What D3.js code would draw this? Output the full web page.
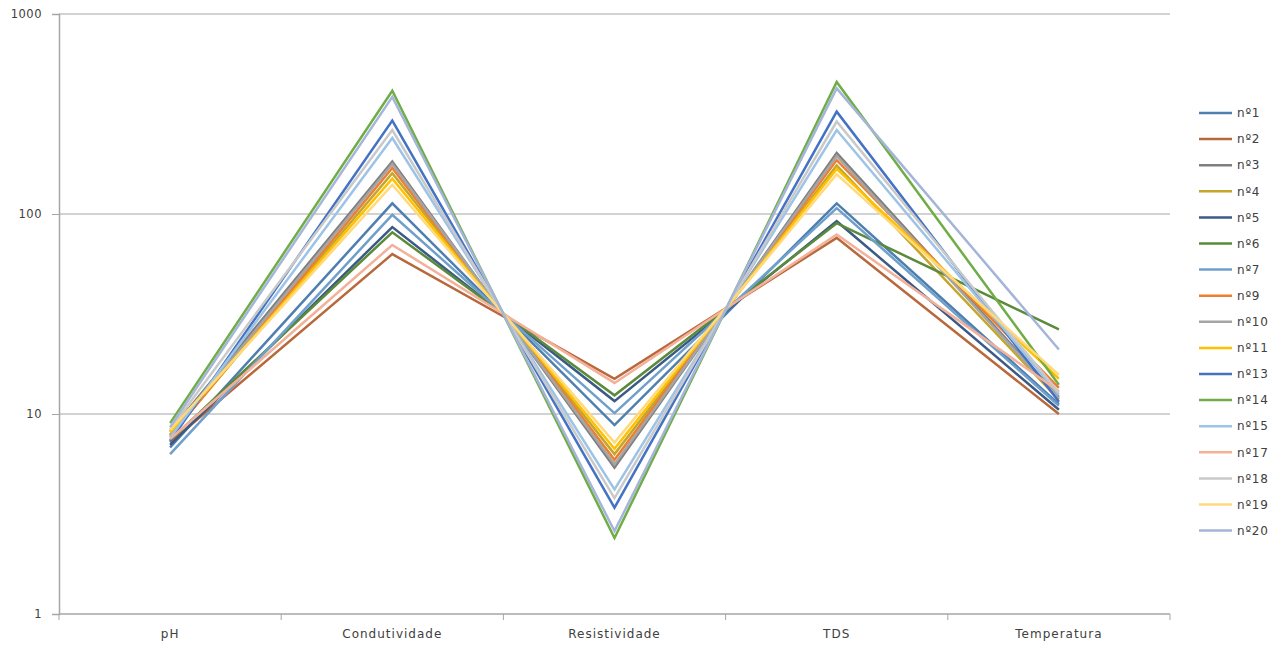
<!DOCTYPE html>
<html><head><meta charset="utf-8">
<script src="https://cdn.jsdelivr.net/npm/d3@7"></script>
<style>
html,body{margin:0;padding:0;background:#fff;}
svg{display:block;}
text{font-family:"DejaVu Sans",Verdana,sans-serif;fill:#404040;}
</style></head>
<body>
<svg id="chart" width="1283" height="646"></svg>
<script>
const categories = ["pH","Condutividade","Resistividade","TDS","Temperatura"];
const seriesNames = ["nº1","nº2","nº3","nº4","nº5","nº6","nº7","nº9","nº10","nº11","nº13","nº14","nº15","nº17","nº18","nº19","nº20"];
const seriesColors = ["#4f7fae","#b8683a","#7f7f7f","#c4a62a","#3b5a85","#5a8a3a","#6fa0cc","#ed7d31","#a5a5a5","#ffc000","#4472c4","#70ad47","#9dc3e6","#f4b19a","#c9c9c9","#ffd97a","#a5b5d9"];
// values per series: pH, Condutividade, Resistividade, TDS, Temperatura
const s1  = [6.8, 113, 8.8, 113, 11.2];
const s2  = [7.2, 63, 15.0, 76, 10.0];
const s3  = [8.2, 183, 5.4, 202, 12.2];
const s4  = [7.8, 160, 6.3, 175, 11.8];
const s5  = [7.0, 86, 11.6, 92, 10.5];
const s6  = [7.4, 81, 12.4, 90, 26.5];
const s7  = [6.3, 99, 10.1, 107, 11.0];
const s9  = [7.7, 170, 5.9, 186, 13.5];
const s10 = [7.9, 178, 5.6, 195, 12.0];
const s11 = [8.1, 150, 6.7, 168, 15.0];
const s13 = [7.3, 293, 3.4, 325, 11.5];
const s14 = [9.0, 413, 2.4, 457, 14.0];
const s15 = [7.6, 240, 4.2, 263, 12.5];
const s17 = [7.5, 70, 14.3, 79, 13.0];
const s18 = [8.4, 263, 3.8, 290, 12.8];
const s19 = [8.3, 140, 7.2, 158, 15.7];
const s20 = [8.6, 385, 2.6, 425, 21.0];
const seriesValues = [s1,s2,s3,s4,s5,s6,s7,s9,s10,s11,s13,s14,s15,s17,s18,s19,s20];
const yTicks = [1,10,100,1000];

const svg = d3.select("#chart");
const L = 59, R = 1170, T = 14, B = 614;
const x = d3.scalePoint().domain(categories).range([L,R]).padding(0.5);
const xb = d3.scaleBand().domain(categories).range([L,R]);
const y = d3.scaleLog().domain([1,1000]).range([B,T]);

// gridlines
svg.append("g").selectAll("line").data(yTicks.filter(d=>d>1)).join("line")
  .attr("x1",L).attr("x2",R).attr("y1",d=>y(d)).attr("y2",d=>y(d))
  .attr("stroke","#a6a6a6").attr("stroke-width",1);

// y axis
const yAxis = d3.axisLeft(y).tickValues(yTicks).tickFormat(d3.format("d")).tickSize(7).tickPadding(10);
const gy = svg.append("g").attr("transform",`translate(${L},0)`).call(yAxis);
gy.select(".domain").attr("stroke","#a6a6a6").attr("stroke-width",1.5);
gy.selectAll(".tick line").attr("stroke","#a6a6a6");
gy.selectAll(".tick text").attr("font-size","11.5px").attr("fill","#404040")
  .style("font-family","'DejaVu Sans',sans-serif").style("letter-spacing","0.5px").attr("dy","0.32em");

// x axis
const gx = svg.append("g").attr("transform",`translate(0,${B})`);
gx.append("line").attr("x1",L).attr("x2",R).attr("stroke","#a6a6a6").attr("stroke-width",1.5);
const bounds = categories.map(c=>xb(c)).concat([R]);
gx.selectAll("line.tk").data(bounds).join("line").attr("class","tk")
  .attr("x1",d=>d).attr("x2",d=>d).attr("y1",0).attr("y2",6).attr("stroke","#a6a6a6");
gx.selectAll("text").data(categories).join("text")
  .attr("x",d=>x(d)).attr("y",24).attr("text-anchor","middle")
  .attr("font-size","12px").style("letter-spacing","1px").text(d=>d);

// lines
const line = d3.line().x((d,i)=>x(categories[i])).y(d=>y(d));
svg.append("g").selectAll("path").data(seriesValues).join("path")
  .attr("d",d=>line(d)).attr("fill","none")
  .attr("stroke",(d,i)=>seriesColors[i]).attr("stroke-width",2.5)
  .attr("stroke-linejoin","miter");

// legend
const lg = svg.append("g");
const lgTop = 113, lgStep = 26.1;
const items = lg.selectAll("g").data(seriesNames).join("g")
  .attr("transform",(d,i)=>`translate(1199,${lgTop+i*lgStep})`);
items.append("line").attr("x1",0).attr("x2",33).attr("stroke",(d,i)=>seriesColors[i]).attr("stroke-width",2.5);
items.append("text").attr("x",38).attr("y",0).attr("dy","0.35em")
  .attr("font-size","12px").style("letter-spacing","0.8px").text(d=>d);
</script>
</body></html>
